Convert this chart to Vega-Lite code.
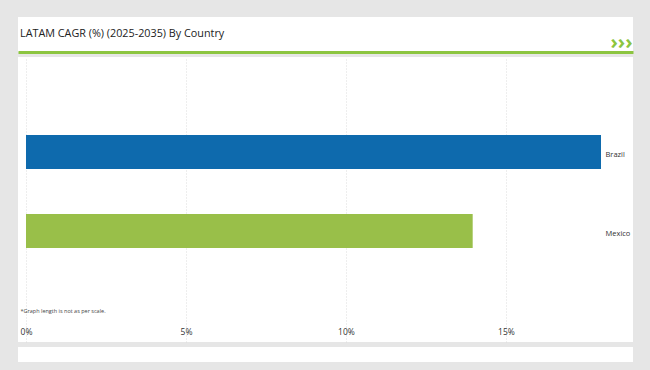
{
  "$schema": "https://vega.github.io/schema/vega-lite/v6.json",
  "background": "#e6e6e6",
  "padding": {"left": 18, "top": 17, "right": 17, "bottom": 8},
  "bounds": "flush",
  "spacing": 5,
  "config": {
    "font": "Open Sans",
    "view": {"stroke": null, "fill": "white"}
  },
  "vconcat": [
    {
      "width": 615,
      "height": 35,
      "title": {
        "text": "LATAM CAGR (%) (2025-2035) By Country",
        "anchor": "start",
        "frame": "group",
        "orient": "top",
        "offset": -31,
        "dx": 2,
        "baseline": "alphabetic",
        "font": "Open Sans",
        "fontSize": 10.8,
        "fontWeight": "normal",
        "color": "#222222"
      },
      "data": {"values": [{"v": 0}]},
      "mark": {"type": "point", "opacity": 0},
      "encoding": {
        "x": {
          "field": "v",
          "type": "quantitative",
          "axis": {
            "domainColor": "#8cc540",
            "domainWidth": 3,
            "labels": false,
            "ticks": false,
            "grid": false,
            "title": "›››",
            "titleFont": "Open Sans",
            "titleFontWeight": "bold",
            "titleFontSize": 20,
            "titleColor": "#8cc540",
            "titleAlign": "left",
            "titleAnchor": "start",
            "titleBaseline": "alphabetic",
            "titleX": 592,
            "titleY": -4
          }
        }
      }
    },
    {
      "width": 615,
      "height": 285,
      "data": {
        "values": [
          {"country": "Brazil", "cagr": 17.97},
          {"country": "Mexico", "cagr": 13.96}
        ]
      },
      "mark": {"type": "bar", "height": {"band": 0.708}},
      "encoding": {
        "y": {
          "field": "country",
          "type": "nominal",
          "sort": ["Brazil", "Mexico"],
          "scale": {"paddingInner": 0.3924, "paddingOuter": 1, "align": 0.449},
          "axis": {
            "orient": "right",
            "offset": -30,
            "domain": false,
            "ticks": false,
            "grid": false,
            "labelPadding": 2,
            "labelOffset": 3,
            "labelFontSize": 7.5,
            "labelColor": "#333333",
            "title": null
          }
        },
        "x": {
          "field": "cagr",
          "type": "quantitative",
          "scale": {"domain": [-0.25, 18.97], "nice": false, "zero": false},
          "axis": {
            "values": [0, 5, 10, 15],
            "labelExpr": "datum.value + '%'",
            "orient": "bottom",
            "offset": -15,
            "domain": false,
            "ticks": false,
            "labelPadding": 0,
            "labelFontSize": 8.5,
            "labelColor": "#333333",
            "grid": true,
            "gridColor": "#dcdcdc",
            "gridDash": [1, 2],
            "gridWidth": 1,
            "title": "*Graph length is not as per scale.",
            "titleFontSize": 5.5,
            "titleFontWeight": "normal",
            "titleColor": "#444444",
            "titleAnchor": "start",
            "titleAlign": "left",
            "titleBaseline": "middle",
            "titleX": 2,
            "titleY": -17
          }
        },
        "color": {
          "field": "country",
          "type": "nominal",
          "scale": {"domain": ["Brazil", "Mexico"], "range": ["#0e6aad", "#99bf49"]},
          "legend": null
        }
      }
    },
    {
      "width": 615,
      "height": 15,
      "data": {"values": [{"v": 0}]},
      "mark": {"type": "point", "opacity": 0},
      "encoding": {
        "x": {"field": "v", "type": "quantitative", "axis": null}
      }
    }
  ]
}
